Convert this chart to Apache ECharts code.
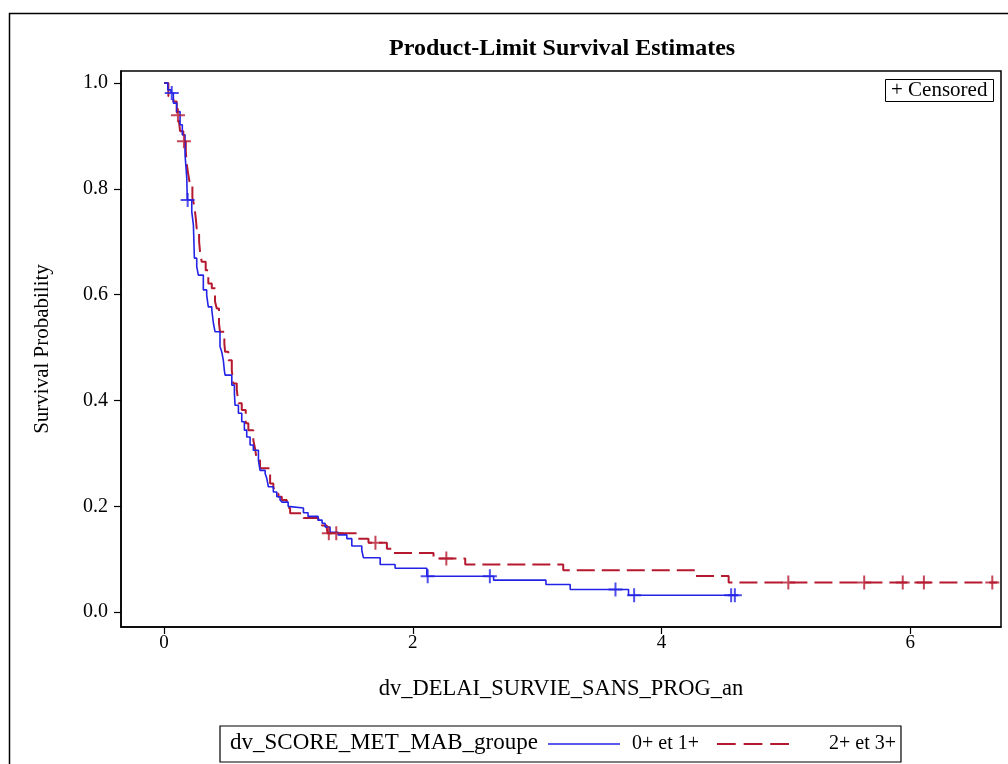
<!DOCTYPE html>
<html>
<head>
<meta charset="utf-8">
<script src="https://cdn.jsdelivr.net/npm/echarts@6/dist/echarts.min.js"></script>
<style>html,body{margin:0;padding:0;background:#fff;}#c{width:1008px;height:764px;}</style>
</head>
<body>
<div id="c"></div>
<script>
// ---- Data ----
const titleText = 'Product-Limit Survival Estimates';
const xAxisName = 'dv_DELAI_SURVIE_SANS_PROG_an';
const yAxisName = 'Survival Probability';
const groupLabel = 'dv_SCORE_MET_MAB_groupe';
const groupNames = ['0+ et 1+', '2+ et 3+'];
const xTicks = [0, 2, 4, 6];
const yTicks = [0, 0.2, 0.4, 0.6, 0.8, 1.0];

// Group 0+ et 1+ : event times and survival after each step
const blueTimes = [0,0.030,0.056,0.075,0.102,0.129,0.147,0.169,0.183,0.187,0.223,0.236,0.240,0.244,0.263,0.276,0.316,0.343,0.356,0.384,0.397,0.410,0.450,0.464,0.477,0.485,0.491,0.545,0.566,0.571,0.598,0.625,0.646,0.665,0.692,0.718,0.759,0.772,0.813,0.826,0.839,0.879,0.907,0.933,0.949,0.998,1.014,1.121,1.158,1.239,1.271,1.295,1.335,1.400,1.470,1.510,1.590,1.603,1.738,1.858,2.113,2.650,3.071,3.266,3.735,4.620];
const blueSurv  = [1.0,0.987,0.981,0.962,0.946,0.921,0.902,0.864,0.820,0.779,0.757,0.732,0.703,0.669,0.653,0.637,0.609,0.599,0.577,0.571,0.546,0.530,0.502,0.492,0.476,0.457,0.448,0.429,0.413,0.391,0.376,0.360,0.344,0.331,0.316,0.306,0.287,0.268,0.262,0.253,0.237,0.227,0.218,0.212,0.208,0.200,0.197,0.188,0.181,0.174,0.168,0.161,0.151,0.146,0.139,0.125,0.117,0.103,0.090,0.083,0.068,0.0605,0.0524,0.0429,0.0321,0.0321];
const blueCensored = [0.062,0.19,2.12,2.62,3.63,3.78,4.56,4.59];

// Group 2+ et 3+
const redTimes = [0,0.035,0.075,0.102,0.108,0.120,0.129,0.155,0.175,0.183,0.195,0.209,0.228,0.244,0.255,0.263,0.282,0.290,0.303,0.335,0.356,0.384,0.410,0.424,0.442,0.450,0.485,0.491,0.517,0.545,0.557,0.585,0.598,0.625,0.657,0.678,0.718,0.732,0.746,0.772,0.853,0.879,0.893,0.920,0.947,0.987,1.014,1.121,1.241,1.269,1.309,1.315,1.550,1.644,1.792,1.845,2.167,2.422,3.210,4.270,4.540,6.700];
const redSurv  = [1.0,0.975,0.965,0.946,0.939,0.928,0.909,0.890,0.871,0.846,0.827,0.808,0.783,0.767,0.745,0.725,0.700,0.681,0.662,0.646,0.621,0.612,0.587,0.574,0.546,0.530,0.508,0.492,0.476,0.457,0.432,0.420,0.395,0.382,0.357,0.344,0.325,0.309,0.287,0.272,0.243,0.237,0.224,0.218,0.212,0.197,0.187,0.178,0.171,0.164,0.158,0.149,0.139,0.131,0.120,0.112,0.1015,0.090,0.0794,0.0686,0.0561,0.0561];
const redCensored = [0.112,0.16,1.325,1.385,1.70,2.27,5.02,5.63,5.94,6.11,6.66];

// ---- Helpers ----
function zip(a, b) { return a.map((v, i) => [v, b[i]]); }
function survAt(times, surv, t) {
  let s = surv[0];
  for (let i = 0; i < times.length; i++) { if (times[i] <= t) s = surv[i]; else break; }
  return s;
}
const BLUE = '#2323E6';
const RED = '#B5192F';
const FONT = 'Liberation Serif';
const plusPath = 'path://M6,0L8,0L8,6L14,6L14,8L8,8L8,14L6,14L6,8L0,8L0,6L6,6Z';
const solidIcon = 'path://M0,0L72,0L72,1.6L0,1.6Z';
const dashIcon = 'path://M0,0L19,0L19,2L0,2Z M27,0L46,0L46,2L27,2Z M54,0L73,0L73,2L54,2Z';

const chart = echarts.init(document.getElementById('c'), null, {renderer: 'canvas'});
chart.setOption({
  animation: false,
  backgroundColor: '#fff',
  textStyle: {fontFamily: FONT, color: '#000'},
  title: [
    {text: titleText, left: 384, top: 32, textStyle: {fontFamily: FONT, fontWeight: 'bold', fontSize: 24, color: '#000'}},
    {text: '+ Censored', left: 885, top: 79, padding: [1, 6, 1, 6], borderColor: '#000', borderWidth: 1,
     textStyle: {fontFamily: FONT, fontWeight: 'normal', fontSize: 21, color: '#000'}}
  ],
  grid: {left: 121, right: 7, top: 71, bottom: 137, show: true, borderColor: '#000', borderWidth: 1.5, backgroundColor: 'transparent'},
  xAxis: {
    type: 'value', min: -0.346, max: 6.73,
    name: xAxisName, nameLocation: 'middle', nameGap: 51,
    nameTextStyle: {fontFamily: FONT, fontSize: 22.5, color: '#000'},
    axisLine: {show: true, onZero: false, lineStyle: {color: '#000', width: 1.5}},
    axisTick: {show: true, length: 7, customValues: xTicks, lineStyle: {color: '#000', width: 1.2}},
    axisLabel: {customValues: xTicks, margin: 7, fontFamily: FONT, fontSize: 19, color: '#000'},
    splitLine: {show: false}
  },
  yAxis: {
    type: 'value', min: -0.028, max: 1.0227,
    name: yAxisName, nameLocation: 'middle', nameGap: 68, nameRotate: 90,
    nameTextStyle: {fontFamily: FONT, fontSize: 21, color: '#000'},
    axisLine: {show: true, onZero: false, lineStyle: {color: '#000', width: 1.5}},
    axisTick: {show: true, length: 7, customValues: yTicks, lineStyle: {color: '#000', width: 1.2}},
    axisLabel: {customValues: yTicks, margin: 13, fontFamily: FONT, fontSize: 20, color: '#000',
      formatter: v => v.toFixed(1)},
    splitLine: {show: false}
  },
  legend: {
    data: [
      {name: groupNames[0], icon: solidIcon},
      {name: groupNames[1], icon: dashIcon, textStyle: {padding: [0, 0, 0, 35]}}
    ],
    left: 220, top: 726, orient: 'horizontal',
    padding: [8, 5, 8, 328], itemGap: 18, itemWidth: 72, itemHeight: 14,
    borderColor: '#000', borderWidth: 1.2,
    textStyle: {fontFamily: FONT, fontSize: 20, color: '#000', padding: [0, 0, 0, 7]}
  },
  graphic: [
    {type: 'rect', shape: {x: 9.5, y: 13.5, width: 1200, height: 900}, style: {fill: 'none', stroke: '#000', lineWidth: 1.5}, silent: true},
    {type: 'text', left: 230, top: 731, style: {text: groupLabel, font: '23px "Liberation Serif"', fill: '#000'}}
  ],
  series: [
    {name: groupNames[0], type: 'line', step: 'end', data: zip(blueTimes, blueSurv), symbol: 'none',
     lineStyle: {color: BLUE, width: 1.6}, itemStyle: {color: BLUE}, z: 3},
    {name: groupNames[1], type: 'line', step: 'end', data: zip(redTimes, redSurv), symbol: 'none',
     lineStyle: {color: RED, width: 2, type: [18, 7]}, itemStyle: {color: RED}, z: 2},
    {name: 'Censored ' + groupNames[0], type: 'scatter', data: blueCensored.map(t => [t, survAt(blueTimes, blueSurv, t)]),
     symbol: plusPath, symbolSize: 14, itemStyle: {color: BLUE}, z: 4, silent: true},
    {name: 'Censored ' + groupNames[1], type: 'scatter', data: redCensored.map(t => [t, survAt(redTimes, redSurv, t)]),
     symbol: plusPath, symbolSize: 14, itemStyle: {color: RED}, z: 4, silent: true}
  ]
});
</script>
</body>
</html>
